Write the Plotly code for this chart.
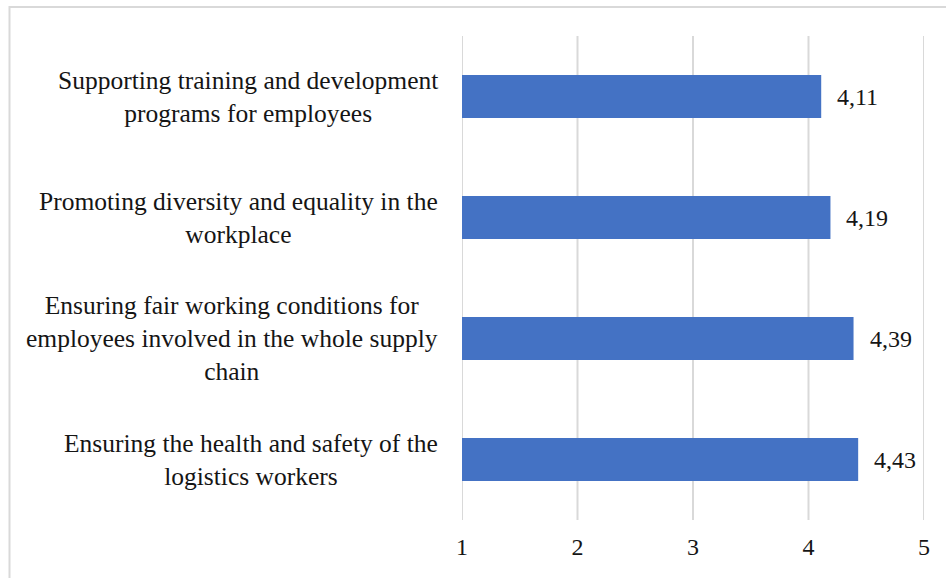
import plotly.graph_objects as go

# Survey items (top to bottom) and their mean scores
categories = [
    "Supporting training and development<br>programs for employees",
    "Promoting diversity and equality in the<br>workplace",
    "Ensuring fair working conditions for<br>employees involved in the whole supply<br>chain",
    "Ensuring the health and safety of the<br>logistics workers",
]
scores = [4.11, 4.19, 4.39, 4.43]
tick_values = [1, 2, 3, 4, 5]

FONT = "Liberation Serif"
TEXT_COLOR = "#151515"
BAR_COLOR = "#4472C4"
GRID_COLOR = "#D9D9D9"

W, H = 946, 578
L, R, T, B = 462, 22, 36, 58

fig = go.Figure(
    go.Bar(
        x=scores,
        y=categories,
        orientation="h",
        marker=dict(color=BAR_COLOR, line=dict(width=0)),
        hoverinfo="skip",
    )
)

# value labels to the right of each bar, comma decimal
for cat, val in zip(categories, scores):
    fig.add_annotation(
        x=val, y=cat, xref="x", yref="y",
        text=f"{val:.2f}".replace(".", ","),
        showarrow=False, xanchor="left", yanchor="middle", xshift=14,
        font=dict(family=FONT, size=24, color=TEXT_COLOR),
    )

# category labels, centred lines, right-aligned block
for cat in categories:
    fig.add_annotation(
        x=0, y=cat, xref="paper", yref="y",
        text=cat, showarrow=False, xanchor="right", yanchor="middle",
        align="center", xshift=-22,
        font=dict(family=FONT, size=25.5, color=TEXT_COLOR),
    )

# vertical gridlines at every tick, including both range ends
for v in tick_values:
    fig.add_shape(
        type="line", xref="x", yref="paper", x0=v, x1=v, y0=0, y1=1,
        line=dict(color=GRID_COLOR, width=2), layer="below",
    )

pw, ph = W - L - R, H - T - B
def px_x(p):
    return (p - L) / pw
def px_y(p):
    return (H - B - p) / ph

# light frame around the chart
fig.add_shape(
    type="rect", xref="paper", yref="paper",
    x0=px_x(9.5), x1=px_x(W + 5), y0=px_y(H + 5), y1=px_y(7),
    line=dict(color=GRID_COLOR, width=2), fillcolor="rgba(0,0,0,0)", layer="below",
)

fig.update_layout(
    width=W, height=H,
    margin=dict(l=L, r=R, t=T, b=B),
    paper_bgcolor="white", plot_bgcolor="white",
    bargap=0.645,
    showlegend=False,
    font=dict(family=FONT, size=24, color=TEXT_COLOR),
)
fig.update_xaxes(
    range=[1, 5], tickvals=tick_values, ticktext=[str(v) for v in tick_values],
    showgrid=False, zeroline=False, showline=False, ticks="",
    ticklabelstandoff=10,
    tickfont=dict(family=FONT, size=24, color=TEXT_COLOR),
)
fig.update_yaxes(
    autorange="reversed", showticklabels=False, showgrid=False,
    zeroline=False, showline=False, ticks="",
)

fig.write_html("out.html")
